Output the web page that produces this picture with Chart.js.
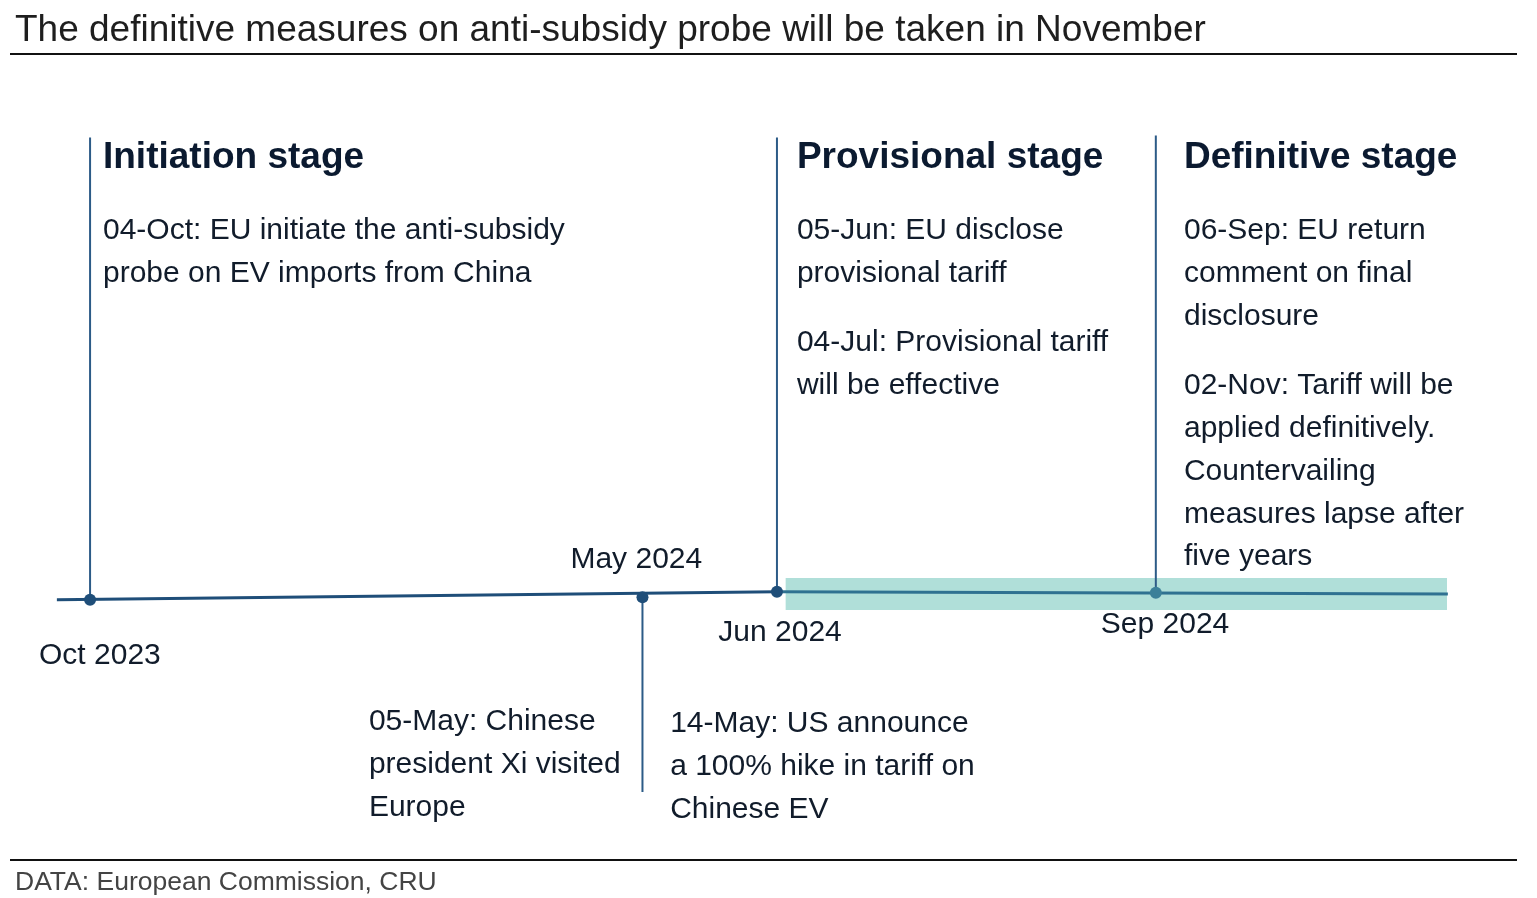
<!DOCTYPE html>
<html>
<head>
<meta charset="utf-8">
<title>EU anti-subsidy probe timeline</title>
<script src="https://cdn.jsdelivr.net/npm/chart.js@4.4.1/dist/chart.umd.min.js"></script>
<style>
  html, body { margin: 0; padding: 0; background: #fff; }
  #wrap { width: 1537px; height: 898px; position: relative; }
</style>
</head>
<body>
<div id="wrap"><canvas id="timelineChart"></canvas></div>
<script>
// timeline positions are on an abstract 0-100 track, heights in -35..65 units
const eventLabels = ["Oct 2023", "May 2024", "Jun 2024", "Sep 2024"];
const eventPos = [5.86, 41.8, 50.55, 75.2];
const eventLevel = [-1.8, -1.5, -0.9, -1.0];
const stemEnd = [49.7, -23.2, 49.7, 49.9];

const trackX = [3.7, 50.55, 94.2];
const trackY = [-1.8, -0.9, -1.15];

const bandX = [51.1, 94.15];
const bandTop = [0.63, 0.63];
const bandBottom = [-2.93, -2.93];

const stageNames = ["Initiation stage", "Provisional stage", "Definitive stage"];
const stageNotes = [
  [["04-Oct: EU initiate the anti-subsidy", "probe on EV imports from China"]],
  [["05-Jun: EU disclose", "provisional tariff"],
   ["04-Jul: Provisional tariff", "will be effective"]],
  [["06-Sep: EU return", "comment on final", "disclosure"],
   ["02-Nov: Tariff will be", "applied definitively.", "Countervailing",
    "measures lapse after", "five years"]]
];
const belowNotes = [
  ["05-May: Chinese", "president Xi visited", "Europe"],
  ["14-May: US announce", "a 100% hike in tariff on", "Chinese EV"]
];

const titleText = "The definitive measures on anti-subsidy probe will be taken in November";
const sourceText = "DATA: European Commission, CRU";

const NAVY = "#1f4e79";
const STEM = "#2c5b87";
const TEAL_LINE = "#2f7191";
const BAND = "#b0dfd9";
const INK = "#111c2b";

const pts = (xs, ys) => xs.map((x, i) => ({ x: x, y: ys[i] }));

const datasets = [];

// shaded definitive band
datasets.push({
  data: pts(bandX, bandTop), borderWidth: 0, pointRadius: 0, fill: false, order: 20
});
datasets.push({
  data: pts(bandX, bandBottom), borderWidth: 0, pointRadius: 0,
  fill: "-1", backgroundColor: BAND, order: 19
});

// main track: dark part up to June, teal-blue part afterwards
datasets.push({
  data: pts(trackX.slice(0, 2), trackY.slice(0, 2)),
  borderColor: NAVY, borderWidth: 3, pointRadius: 0, order: 10
});
datasets.push({
  data: pts(trackX.slice(1), trackY.slice(1)),
  borderColor: TEAL_LINE, borderWidth: 3, pointRadius: 0, order: 10
});

// stems
eventPos.forEach((x, i) => {
  datasets.push({
    data: [{ x: x, y: eventLevel[i] }, { x: x, y: stemEnd[i] }],
    borderColor: STEM, borderWidth: 2, pointRadius: 0, order: 8
  });
});

// event dots
datasets.push({
  data: pts(eventPos, eventLevel),
  showLine: false,
  pointRadius: 6,
  pointBorderWidth: 0,
  pointBackgroundColor: [NAVY, NAVY, NAVY, "#3b8099"],
  order: 1
});

// text layout on the same scales
const stageLayout = [
  { x: 6.70, head: 47.74, blocks: [39.61] },
  { x: 51.85, head: 47.74, blocks: [39.61, 27.14] },
  { x: 77.03, head: 47.74, blocks: [39.61, 22.36] }
];
const belowLayout = [
  { x: 24.0, y: -15.07 },
  { x: 43.6, y: -15.29 }
];
const dateLayout = [
  { x: 6.5, y: -7.72 },
  { x: 41.4, y: 2.97 },
  { x: 50.75, y: -5.17 },
  { x: 75.8, y: -4.28 }
];

const textPlugin = {
  id: "timelineText",
  afterDraw(chart) {
    const ctx = chart.ctx;
    const sx = chart.scales.x, sy = chart.scales.y;
    const W = chart.width;
    const lh = 42.8;
    const dy = 3; // "middle" baseline sits a little high for this font
    const py = (v) => sy.getPixelForValue(v) + dy;
    ctx.save();
    ctx.textBaseline = "middle";

    // title + rules + source
    ctx.fillStyle = "#1e1e1e";
    ctx.font = "37px 'Liberation Sans', Arial, sans-serif";
    ctx.textAlign = "left";
    ctx.fillText(titleText, 15, 31);
    ctx.strokeStyle = "#111";
    ctx.lineWidth = 2;
    ctx.beginPath();
    ctx.moveTo(10, 54); ctx.lineTo(W - 20, 54);
    ctx.moveTo(10, 860); ctx.lineTo(W - 20, 860);
    ctx.stroke();
    ctx.fillStyle = "#444";
    ctx.font = "26.5px 'Liberation Sans', Arial, sans-serif";
    ctx.fillText(sourceText, 15, 883);

    // stage headings + notes
    stageLayout.forEach((L, i) => {
      const px = sx.getPixelForValue(L.x);
      ctx.fillStyle = "#0b1a30";
      ctx.font = "bold 37px 'Liberation Sans', Arial, sans-serif";
      ctx.fillText(stageNames[i], px, py(L.head));
      ctx.fillStyle = INK;
      ctx.font = "30px 'Liberation Sans', Arial, sans-serif";
      stageNotes[i].forEach((lines, b) => {
        const y0 = py(L.blocks[b]);
        lines.forEach((t, k) => ctx.fillText(t, px, y0 + k * lh));
      });
    });

    // notes below track
    ctx.fillStyle = INK;
    ctx.font = "30px 'Liberation Sans', Arial, sans-serif";
    belowLayout.forEach((L, i) => {
      const px = sx.getPixelForValue(L.x);
      const y0 = py(L.y);
      belowNotes[i].forEach((t, k) => ctx.fillText(t, px, y0 + k * lh));
    });

    // date labels
    ctx.textAlign = "center";
    dateLayout.forEach((L, i) => {
      ctx.fillText(eventLabels[i], sx.getPixelForValue(L.x), py(L.y));
    });
    ctx.restore();
  }
};

new Chart(document.getElementById("timelineChart"), {
  type: "line",
  data: { datasets: datasets },
  options: {
    responsive: true,
    maintainAspectRatio: false,
    animation: false,
    layout: { padding: 0, autoPadding: false },
    plugins: {
      legend: { display: false },
      tooltip: { enabled: false },
      title: { display: false }
    },
    elements: { line: { tension: 0, borderCapStyle: "butt" } },
    scales: {
      x: { type: "linear", min: 0, max: 100, display: false },
      y: { type: "linear", min: -35, max: 65, display: false }
    }
  },
  plugins: [textPlugin]
});
</script>
</body>
</html>
